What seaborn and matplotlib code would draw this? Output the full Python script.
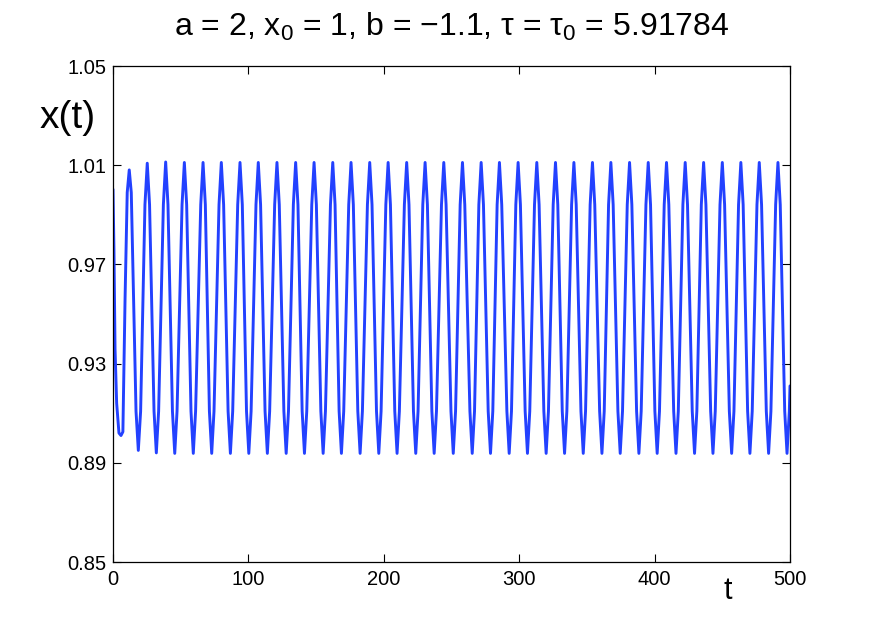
import numpy as np
import pandas as pd
import matplotlib
matplotlib.use("Agg")
import matplotlib.pyplot as plt
import seaborn as sns

# ---- data ----
# initial transient (t, x)
transient_t = [0.0, 0.7, 1.5, 2.7, 4.4, 5.9, 7.3, 8.9, 10.5, 12.0, 13.5]
transient_x = [1.0003, 0.976, 0.936, 0.914, 0.902, 0.9010, 0.9025, 0.956, 0.9990, 1.0081, 0.9990]

# extrema of the oscillation (after the transient): times and levels
peak_t = [25.3, 38.9, 52.7, 66.5, 80.0, 93.8, 107.3, 121.1, 134.9, 148.5, 162.3,
          175.8, 189.6, 203.2, 216.9, 230.5, 244.3, 258.1, 271.9, 285.4, 299.2,
          313.0, 326.8, 340.4, 354.1, 367.7, 381.5, 395.3, 408.8, 422.6, 436.2,
          450.0, 463.7, 477.3, 491.1]
peak_x = [1.0108, 1.0113, 1.0111, 1.0111, 1.0111, 1.0111, 1.0111, 1.0111, 1.0111, 1.0111, 1.0111,
          1.0111, 1.0111, 1.0111, 1.0111, 1.0111, 1.0111, 1.0111, 1.0111, 1.0111, 1.0111,
          1.0111, 1.0111, 1.0111, 1.0111, 1.0111, 1.0111, 1.0111, 1.0111, 1.0111, 1.0111,
          1.0111, 1.0111, 1.0111, 1.0111]
trough_t = [18.7, 32.0, 45.6, 59.3, 72.9, 86.7, 100.3, 114.0, 127.9, 141.4, 155.2, 168.7,
            182.5, 196.3, 209.8, 223.6, 237.2, 251.3, 265.3, 278.8, 292.6, 306.1,
            319.9, 333.5, 347.3, 361.1, 374.6, 388.4, 401.9, 415.8, 429.5, 443.1,
            456.9, 470.4, 484.2, 497.8]
trough_x = [0.8950, 0.8940, 0.8938, 0.8938, 0.8938, 0.8938, 0.8938, 0.8938, 0.8938, 0.8938, 0.8938, 0.8938,
            0.8938, 0.8938, 0.8938, 0.8938, 0.8938, 0.8938, 0.8938, 0.8938, 0.8938, 0.8938,
            0.8938, 0.8938, 0.8938, 0.8938, 0.8938, 0.8938, 0.8938, 0.8938, 0.8938, 0.8938,
            0.8938, 0.8938, 0.8938, 0.8938]
# rounded tips: level read 1.7 time units either side of each peak / trough
shoulder_dt = 1.7
peak_shoulder_x = 0.9941
trough_shoulder_x = 0.9108
end_t = [500.0]
end_x = [0.921]

x_ticks = [0, 100, 200, 300, 400, 500]
y_ticks = [0.85, 0.89, 0.93, 0.97, 1.01, 1.05]
y_tick_labels = ["0.85", "0.89", "0.93", "0.97", "1.01", "1.05"]

title_text = "a = 2, x$_{\\mathrm{0}}$ = 1, b = \u22121.1, \u03c4 = \u03c4$_{\\mathrm{0}}$ = 5.91784"

# ---- build table ----
pk_t = np.array(peak_t)
tr_t = np.array(trough_t)
all_t = (transient_t + peak_t + trough_t + end_t
         + list(pk_t - shoulder_dt) + list(pk_t + shoulder_dt)
         + list(tr_t - shoulder_dt) + list(tr_t + shoulder_dt))
all_x = (transient_x + peak_x + trough_x + end_x
         + [peak_shoulder_x] * len(peak_t) * 2
         + [trough_shoulder_x] * len(trough_t) * 2)
df = pd.DataFrame({"t": all_t, "x": all_x})
df = df[df["t"] <= 500].sort_values("t").reset_index(drop=True)

sns.set_theme(style="white")
plt.rcParams["font.family"] = ["Liberation Sans", "DejaVu Sans"]
plt.rcParams["mathtext.fontset"] = "custom"
plt.rcParams["mathtext.rm"] = "Liberation Sans"
plt.rcParams["mathtext.it"] = "Liberation Sans"

fig = plt.figure(figsize=(8.72, 6.31), dpi=100)
ax = fig.add_axes([113 / 872, 1 - 562 / 631, (790 - 113) / 872, (562 - 66) / 631])

sns.lineplot(data=df, x="t", y="x", ax=ax, sort=False, estimator=None,
             color="#2341ff", linewidth=2.1)
for line in ax.get_lines():
    line.set_solid_joinstyle("round")
    line.set_solid_capstyle("round")

ax.set_xlim(0, 500)
ax.set_ylim(0.85, 1.05)
ax.set_xticks(x_ticks)
ax.set_xticklabels([str(v) for v in x_ticks])
ax.set_yticks(y_ticks)
ax.set_yticklabels(y_tick_labels)
ax.tick_params(axis="both", which="major", direction="in", length=6, width=0.8,
               colors="black", labelsize=14.5, top=True, right=True,
               bottom=True, left=True)
ax.tick_params(axis="x", pad=6)
ax.tick_params(axis="y", pad=5)
for s in ax.spines.values():
    s.set_visible(True)
    s.set_color("black")
    s.set_linewidth(0.9)
ax.set_xlabel("")
ax.set_ylabel("")
ax.grid(False)

fig.text(451.5 / 872, 1 - 36 / 631, title_text, ha="center", va="baseline",
         fontsize=23, color="black")
fig.text(68 / 872, 1 - 118 / 631, "x(t)", ha="center", va="center",
         fontsize=28, color="black")
fig.text(728 / 872, 1 - 591 / 631, "t", ha="center", va="center",
         fontsize=22, color="black")

fig.savefig("out.png", dpi=100, facecolor="white")
